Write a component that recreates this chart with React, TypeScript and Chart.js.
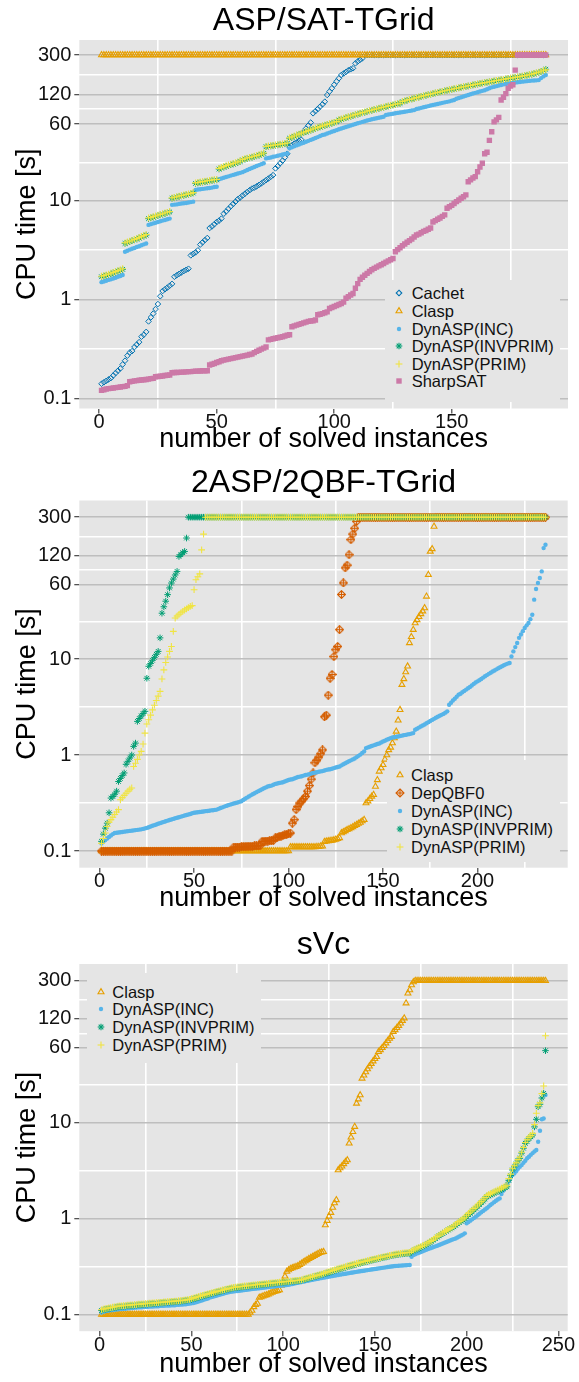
import React, { useEffect, useRef } from 'react';
import { Chart, registerables } from 'chart.js';

Chart.register(...registerables);

const FONT = '"Liberation Sans", Arial, Helvetica, sans-serif';

// ---------------- axis tick values ----------------
const yMajorTicks = [0.1, 1, 10, 60, 120, 300];
const yMinorGrid = [0.316, 3.16, 24.5, 84.9, 190];
const p1XMajor = [0, 50, 100, 150];
const p1XMinor = [25, 75, 125, 175];
const p2XMajor = [0, 50, 100, 150, 200];
const p2XMinor = [25, 75, 125, 175, 225];
const p3XMajor = [0, 50, 100, 150, 200, 250];
const p3XMinor = [25, 75, 125, 175, 225];

// ---------------- panel 1: ASP/SAT-TGrid ----------------
const p1Cachet = [
  0.14, 0.145, 0.15, 0.155, 0.16, 0.17, 0.18, 0.19, 0.2, 0.22,
  0.24, 0.27, 0.29, 0.3, 0.33, 0.35, 0.37, 0.42, 0.44, 0.47,
  0.6, 0.66, 0.72, 0.8, 0.9, 1.08, 1.22, 1.27, 1.32, 1.38,
  1.44, 1.7, 1.76, 1.82, 1.88, 1.94, 2.0, 2.05, 2.8, 2.9,
  3.0, 3.15, 3.6, 3.8, 4.0, 4.2, 5.3, 5.5, 5.8, 6.1,
  6.3, 6.6, 7.4, 7.8, 8.3, 8.8, 9.3, 9.8, 10.4, 10.8,
  11.3, 11.8, 12.3, 12.8, 13.3, 13.6, 14, 14.5, 15, 15.6,
  16.2, 16.8, 17.5, 18.2, 21.3, 22.5, 24, 25.5, 27.5, 30,
  35, 36.5, 38, 39, 40.5, 41.5, 50, 54, 58, 62,
  77, 81, 85, 90, 95, 101, 118, 128, 138, 150,
  162, 174, 188, 195, 202, 210, 215, 220, 247, 258,
  268, 278, 300, 300, 300, 300, 300, 300, 300, 300,
  300, 300, 300, 300, 300, 300, 300, 300, 300, 300,
  300, 300, 300, 300, 300, 300, 300, 300, 300, 300,
  300, 300, 300, 300, 300, 300, 300, 300, 300, 300,
  300, 300, 300, 300, 300, 300, 300, 300, 300, 300,
  300, 300, 300, 300, 300, 300, 300, 300, 300, 300,
  300, 300, 300, 300, 300, 300, 300, 300, 300, 300,
  300, 300, 300, 300, 300, 300, 300, 300, 300, 300,
];
const p1Clasp = [
  300, 300, 300, 300, 300, 300, 300, 300, 300, 300,
  300, 300, 300, 300, 300, 300, 300, 300, 300, 300,
  300, 300, 300, 300, 300, 300, 300, 300, 300, 300,
  300, 300, 300, 300, 300, 300, 300, 300, 300, 300,
  300, 300, 300, 300, 300, 300, 300, 300, 300, 300,
  300, 300, 300, 300, 300, 300, 300, 300, 300, 300,
  300, 300, 300, 300, 300, 300, 300, 300, 300, 300,
  300, 300, 300, 300, 300, 300, 300, 300, 300, 300,
  300, 300, 300, 300, 300, 300, 300, 300, 300, 300,
  300, 300, 300, 300, 300, 300, 300, 300, 300, 300,
  300, 300, 300, 300, 300, 300, 300, 300, 300, 300,
  300, 300, 300, 300, 300, 300, 300, 300, 300, 300,
  300, 300, 300, 300, 300, 300, 300, 300, 300, 300,
  300, 300, 300, 300, 300, 300, 300, 300, 300, 300,
  300, 300, 300, 300, 300, 300, 300, 300, 300, 300,
  300, 300, 300, 300, 300, 300, 300, 300, 300, 300,
  300, 300, 300, 300, 300, 300, 300, 300, 300, 300,
  300, 300, 300, 300, 300, 300, 300, 300, 300, 300,
  300, 300, 300, 300, 300, 300, 300, 300, 300, 300,
];
const p1Inc = [
  1.5, 1.52, 1.55, 1.58, 1.6, 1.63, 1.66, 1.7, 1.73, 1.77,
  3.05, 3.12, 3.2, 3.27, 3.33, 3.4, 3.47, 3.55, 3.62, 3.7,
  5.7, 5.8, 5.9, 6.0, 6.1, 6.2, 6.3, 6.4, 6.5, 6.6,
  9.1, 9.15, 9.2, 9.3, 9.4, 9.45, 9.5, 9.6, 9.7, 9.8,
  12.9, 13.0, 13.1, 13.2, 13.3, 13.4, 13.5, 13.6, 13.8, 13.9,
  16.5, 16.8, 17.1, 17.4, 17.7, 18.0, 18.3, 18.6, 18.9, 19.2,
  19.5, 20, 20.5, 21, 21.5, 22, 22.5, 23, 23.5, 24,
  26.9, 27.2, 27.5, 27.9, 28.2, 28.6, 29, 29.4, 29.8, 30.2,
  34, 34.8, 35.6, 36.4, 37.2, 38, 38.8, 39.6, 40.5, 41.4,
  42.3, 43.2, 44.2, 45.3, 46.4, 47, 48, 49, 50, 51,
  52, 53, 54, 55, 56, 57, 58, 59, 60, 61,
  62, 63, 64, 65, 66, 67, 67.8, 68.6, 69.4, 70.2,
  71, 74, 74.8, 75.5, 76.2, 77, 77.7, 78.4, 79.1, 79.8,
  80.6, 81.4, 82.2, 83, 85, 86.2, 87.4, 88.6, 89.8, 91,
  92.2, 93.4, 94.6, 95.8, 97, 98.2, 99.4, 100.6, 101.8, 103.4,
  105, 108, 110, 112, 114, 116, 118, 120, 122, 124,
  126, 128, 130, 132, 135, 138, 141, 143, 145, 147,
  149, 151, 152.5, 154, 155, 157, 158, 159, 160, 161,
  162, 163, 164, 165, 165.5, 166, 167, 175, 182, 188,
];
const p1InvPrim = [
  1.7, 1.73, 1.76, 1.79, 1.82, 1.86, 1.9, 1.94, 1.98, 2.02,
  3.7, 3.78, 3.86, 3.94, 4.02, 4.1, 4.2, 4.3, 4.4, 4.5,
  6.6, 6.72, 6.84, 6.96, 7.08, 7.2, 7.32, 7.44, 7.56, 7.7,
  10.6, 10.75, 10.9, 11.05, 11.2, 11.35, 11.5, 11.65, 11.8, 12,
  15, 15.15, 15.3, 15.45, 15.6, 15.75, 15.9, 16.05, 16.2, 16.3,
  21, 21.5, 22, 22.4, 22.8, 23.2, 23.6, 24, 24.5, 25,
  26, 26.4, 26.8, 27.2, 27.6, 28, 28.5, 29, 29.5, 30.2,
  35.3, 35.6, 35.9, 36.2, 36.5, 36.8, 37.1, 37.4, 37.8, 38.2,
  43, 44, 45, 46, 47, 48, 49, 50, 51, 52,
  53, 54, 55, 56, 57, 58, 59, 60, 61, 62,
  63, 65.8, 67, 68.2, 69.4, 70.6, 71.8, 73, 74.2, 75.4,
  76.6, 77.8, 79, 80.2, 81.4, 82.6, 83.8, 85, 86.2, 87.4,
  88.6, 89.8, 91, 92.2, 93.4, 94.6, 95.8, 97, 101, 102.6,
  104.2, 105.8, 107.4, 109, 110.6, 112.2, 113.8, 115.4, 117, 118.6,
  120.2, 121.8, 123.4, 125, 126.6, 128.2, 129.8, 131.4, 133, 134.6,
  136.2, 137.8, 139.4, 141, 142.6, 144.2, 145.8, 147.4, 149, 150.6,
  152.2, 153.8, 155.4, 157, 158.6, 160.2, 161.8, 163.4, 165, 166.6,
  168.2, 169.8, 171.4, 173, 174.6, 176.2, 177.8, 179.4, 181, 183,
  185, 187, 189, 191, 194, 197, 200, 204, 209, 215,
];
const p1Prim = [
  1.72, 1.75, 1.78, 1.81, 1.85, 1.88, 1.92, 1.96, 2.0, 2.05,
  3.75, 3.83, 3.9, 3.98, 4.06, 4.15, 4.25, 4.35, 4.45, 4.55,
  6.7, 6.8, 6.92, 7.04, 7.16, 7.28, 7.4, 7.52, 7.65, 7.8,
  10.7, 10.85, 11, 11.15, 11.3, 11.45, 11.6, 11.75, 11.9, 12.1,
  15.2, 15.35, 15.5, 15.65, 15.8, 15.95, 16.1, 16.25, 16.4, 16.5,
  21.3, 21.8, 22.3, 22.7, 23.1, 23.5, 23.9, 24.3, 24.8, 25.3,
  26.3, 26.7, 27.1, 27.5, 27.9, 28.3, 28.8, 29.3, 29.8, 30.5,
  35.6, 35.9, 36.2, 36.5, 36.8, 37.1, 37.4, 37.7, 38.1, 38.5,
  43.4, 44.4, 45.4, 46.4, 47.4, 48.4, 49.4, 50.4, 51.4, 52.4,
  53.4, 54.4, 55.4, 56.4, 57.4, 58.4, 59.4, 60.4, 61.4, 62.4,
  63.5, 66.3, 67.5, 68.7, 69.9, 71.1, 72.3, 73.5, 74.7, 75.9,
  77.1, 78.3, 79.5, 80.7, 81.9, 83.1, 84.3, 85.5, 86.7, 87.9,
  89.1, 90.3, 91.5, 92.7, 93.9, 95.1, 96.3, 97.5, 101.5, 103,
  104.6, 106.2, 107.8, 109.4, 111, 112.6, 114.2, 115.8, 117.4, 119,
  120.6, 122.2, 123.8, 125.4, 127, 128.6, 130.2, 131.8, 133.4, 135,
  136.6, 138.2, 139.8, 141.4, 143, 144.6, 146.2, 147.8, 149.4, 151,
  152.6, 154.2, 155.8, 157.4, 159, 160.6, 162.2, 163.8, 165.4, 167,
  168.6, 170.2, 171.8, 173.4, 175, 176.6, 178.2, 179.8, 181.4, 183.5,
  185.5, 187.5, 189.5, 192, 195, 198, 201, 205, 210, 212,
];
const p1SharpSat = [
  0.12, 0.122, 0.124, 0.125, 0.126, 0.127, 0.128, 0.129, 0.13, 0.131, 0.132, 0.134,
  0.147, 0.148, 0.15, 0.151, 0.152, 0.153, 0.154, 0.155, 0.156, 0.158, 0.159,
  0.165, 0.166, 0.167, 0.168, 0.17, 0.171, 0.172,
  0.181, 0.182, 0.182, 0.183, 0.184, 0.184, 0.185, 0.186, 0.186, 0.187, 0.188, 0.188, 0.189, 0.19, 0.19, 0.19,
  0.217, 0.221, 0.225, 0.23, 0.234,
  0.24, 0.243, 0.246, 0.249, 0.252, 0.255, 0.258, 0.261, 0.264, 0.267, 0.27, 0.273, 0.277, 0.28,
  0.29, 0.298, 0.306, 0.314, 0.322, 0.33,
  0.39, 0.395, 0.4, 0.405, 0.41, 0.415, 0.42, 0.427, 0.434, 0.44,
  0.53, 0.54, 0.55, 0.56, 0.57, 0.58, 0.59, 0.6, 0.605, 0.61, 0.62,
  0.7, 0.71, 0.72, 0.735, 0.75,
  0.81, 0.83, 0.85, 0.87, 0.89, 0.91, 0.94,
  1.03, 1.07, 1.11, 1.15,
  1.3, 1.45, 1.6, 1.68, 1.76, 1.84, 1.92, 2.0,
  2.07, 2.13, 2.19, 2.25, 2.32, 2.39, 2.46, 2.53, 2.6,
  3.05, 3.2, 3.35, 3.5, 3.65, 3.8, 3.95, 4.1, 4.3,
  4.5, 4.6, 4.75, 4.9, 5.0, 5.15, 5.3,
  6.1, 6.3, 6.5, 6.7, 6.95, 7.2,
  8.4, 8.7, 9.0, 9.4, 9.8, 10.2, 10.6, 11, 11.5,
  15.6, 16.3, 17, 17.6,
  19.7, 22, 24,
  30, 31, 41, 50, 63, 66, 70,
  105, 112, 122, 138, 145, 150, 211,
  300, 300, 300, 300, 300, 300, 300, 300, 300, 300, 300, 300, 300,
];

// ---------------- panel 2: 2ASP/2QBF-TGrid ----------------
const p2Clasp = [
  0.1, 0.1, 0.1, 0.1, 0.1, 0.1, 0.1, 0.1, 0.1, 0.1,
  0.1, 0.1, 0.1, 0.1, 0.1, 0.1, 0.1, 0.1, 0.1, 0.1,
  0.1, 0.1, 0.1, 0.1, 0.1, 0.1, 0.1, 0.1, 0.1, 0.1,
  0.1, 0.1, 0.1, 0.1, 0.1, 0.1, 0.1, 0.1, 0.1, 0.1,
  0.1, 0.1, 0.1, 0.1, 0.1, 0.1, 0.1, 0.1, 0.1, 0.1,
  0.1, 0.1, 0.1, 0.1, 0.1, 0.1, 0.1, 0.1, 0.1, 0.1,
  0.1, 0.1, 0.1, 0.1, 0.1, 0.1, 0.1, 0.1, 0.1, 0.1,
  0.1, 0.1, 0.1, 0.1, 0.1, 0.1, 0.1, 0.1, 0.1, 0.1,
  0.1, 0.1, 0.1, 0.1, 0.1, 0.1, 0.1, 0.1, 0.1, 0.1,
  0.1, 0.1, 0.1, 0.1, 0.1, 0.1, 0.1, 0.1, 0.1, 0.1,
  0.11, 0.11, 0.11, 0.11, 0.11, 0.11, 0.11, 0.11, 0.11, 0.11,
  0.11, 0.11, 0.11, 0.11, 0.111, 0.111, 0.112, 0.112,
  0.125, 0.126, 0.127, 0.128, 0.129, 0.13, 0.132, 0.134, 0.137,
  0.154, 0.158, 0.162, 0.166, 0.17, 0.174, 0.178, 0.183, 0.188, 0.193, 0.198, 0.205, 0.212,
  0.316, 0.33, 0.35, 0.37, 0.386,
  0.47, 0.55, 0.675, 0.73, 0.79, 0.9, 1.0, 1.13, 1.2, 1.33,
  1.5, 1.76, 2.3, 2.96, 5.4, 6.2, 7.3, 8.4, 14.7, 17,
  20.2, 23.7, 25.5, 27.5, 29.5, 31.5, 34, 44.9, 75.5, 132,
  140, 240,
  300, 300, 300, 300, 300, 300, 300, 300, 300, 300,
  300, 300, 300, 300, 300, 300, 300, 300, 300, 300,
  300, 300, 300, 300, 300, 300, 300, 300, 300, 300,
  300, 300, 300, 300, 300, 300, 300, 300, 300, 300,
  300, 300, 300, 300, 300, 300, 300, 300, 300, 300,
  300, 300, 300, 300, 300, 300, 300, 300, 300,
];
const p2DepQbf = [
  0.1, 0.1, 0.1, 0.1, 0.1, 0.1, 0.1, 0.1, 0.1, 0.1,
  0.1, 0.1, 0.1, 0.1, 0.1, 0.1, 0.1, 0.1, 0.1, 0.1,
  0.1, 0.1, 0.1, 0.1, 0.1, 0.1, 0.1, 0.1, 0.1, 0.1,
  0.1, 0.1, 0.1, 0.1, 0.1, 0.1, 0.1, 0.1, 0.1, 0.1,
  0.1, 0.1, 0.1, 0.1, 0.1, 0.1, 0.1, 0.1, 0.1, 0.1,
  0.1, 0.1, 0.1, 0.1, 0.1, 0.1, 0.1, 0.1, 0.1, 0.1,
  0.1, 0.1, 0.1, 0.1, 0.1, 0.1, 0.1, 0.1, 0.1, 0.1,
  0.11, 0.11, 0.11, 0.11, 0.111, 0.111, 0.111, 0.112, 0.112, 0.112, 0.112, 0.113, 0.113, 0.113, 0.114,
  0.126, 0.126, 0.127, 0.127, 0.128, 0.128, 0.129,
  0.137, 0.139, 0.141, 0.143, 0.145, 0.147, 0.149, 0.151, 0.154,
  0.195, 0.212,
  0.27, 0.29, 0.316, 0.33, 0.35,
  0.37, 0.42, 0.48, 0.56, 0.65,
  0.83, 0.88, 0.95, 1.03, 1.13,
  2.5, 2.6,
  4.2, 6.3, 6.9, 10.6, 12.5, 13.5, 20.2,
  47, 62, 89, 95, 122, 175, 200, 230, 271,
  300, 300, 300, 300, 300, 300, 300, 300, 300, 300,
  300, 300, 300, 300, 300, 300, 300, 300, 300, 300,
  300, 300, 300, 300, 300, 300, 300, 300, 300, 300,
  300, 300, 300, 300, 300, 300, 300, 300, 300, 300,
  300, 300, 300, 300, 300, 300, 300, 300, 300, 300,
  300, 300, 300, 300, 300, 300, 300, 300, 300, 300,
  300, 300, 300, 300, 300, 300, 300, 300, 300, 300,
  300, 300, 300, 300, 300, 300, 300, 300, 300, 300,
  300, 300, 300, 300, 300, 300, 300, 300, 300, 300,
  300, 300, 300, 300, 300, 300, 300, 300, 300, 300,
];
const p2Inc = [
  0.12, 0.125, 0.13, 0.135, 0.14, 0.145, 0.15, 0.154,
  0.155, 0.156, 0.157, 0.158, 0.159, 0.16, 0.161, 0.162, 0.163, 0.164, 0.165, 0.166, 0.167, 0.168, 0.17, 0.172, 0.174,
  0.177, 0.18, 0.183, 0.186, 0.189, 0.192, 0.195, 0.198, 0.201, 0.204, 0.207, 0.21, 0.213, 0.216, 0.219,
  0.222, 0.225, 0.228, 0.231, 0.234, 0.237, 0.24, 0.243, 0.247, 0.25,
  0.252, 0.253, 0.255, 0.256, 0.258, 0.26, 0.261, 0.263, 0.265, 0.266, 0.268, 0.27,
  0.275, 0.28, 0.285, 0.29, 0.295, 0.3, 0.304, 0.308, 0.312, 0.316, 0.32, 0.325, 0.33,
  0.34, 0.35, 0.36, 0.37, 0.38, 0.39, 0.4, 0.41, 0.42, 0.43, 0.44, 0.45, 0.46, 0.47, 0.475, 0.48, 0.49,
  0.5, 0.505, 0.51, 0.515, 0.52, 0.53, 0.54, 0.55, 0.555, 0.56, 0.57, 0.58, 0.59, 0.595, 0.6, 0.61, 0.62, 0.625, 0.63, 0.64, 0.65,
  0.655, 0.66, 0.67, 0.675, 0.68, 0.69, 0.7, 0.705, 0.71, 0.72, 0.73, 0.74, 0.75, 0.76,
  0.78, 0.8, 0.82, 0.84, 0.86, 0.88, 0.9, 0.92, 0.95, 0.98, 1.01, 1.05, 1.09,
  1.18, 1.2, 1.22, 1.24, 1.26, 1.28, 1.3, 1.32, 1.35, 1.38, 1.41, 1.44, 1.47, 1.5,
  1.52, 1.53, 1.55, 1.56, 1.58, 1.59, 1.61, 1.62, 1.64, 1.65, 1.67, 1.69,
  1.83, 1.88, 1.93, 1.98, 2.03, 2.08, 2.14, 2.2, 2.26, 2.32, 2.38, 2.44, 2.5, 2.56, 2.62, 2.68, 2.76, 2.85,
  3.34, 3.5, 3.7, 3.85, 4.05, 4.25,
  4.35, 4.5, 4.65, 4.8, 4.95, 5.1, 5.3, 5.5, 5.7, 5.85,
  6.0, 6.2, 6.4, 6.6, 6.8, 7.0, 7.2, 7.4, 7.6, 7.8, 8.0, 8.2, 8.4, 8.6, 8.8, 8.95, 9.1,
  10.6, 12, 13.3, 14.7,
  16.6, 18, 19.5, 21, 22.4, 23.7, 26,
  28.9, 41.5, 53.6, 62, 69.8, 81.7, 143, 155,
];
const p2InvPrim = [
  0.126, 0.15, 0.173, 0.195, 0.25, 0.356, 0.37, 0.39, 0.42, 0.53,
  0.57, 0.61, 0.65, 0.8, 0.86, 0.93, 1.0, 1.23, 1.33, 2.24,
  2.4, 2.55, 2.7, 2.85, 6.3, 8.4, 9.0, 9.7, 10.4, 11.2,
  12, 16.6, 30, 35, 40, 46.8, 55, 61.8, 68, 75,
  81.7, 117, 122, 128, 132, 182,
  300, 300, 300, 300, 300, 300, 300, 300, 300, 300,
  300, 300, 300, 300, 300, 300, 300, 300, 300, 300,
  300, 300, 300, 300, 300, 300, 300, 300, 300, 300,
  300, 300, 300, 300, 300, 300, 300, 300, 300, 300,
  300, 300, 300, 300, 300, 300, 300, 300, 300, 300,
  300, 300, 300, 300, 300, 300, 300, 300, 300, 300,
  300, 300, 300, 300, 300, 300, 300, 300, 300, 300,
  300, 300, 300, 300, 300, 300, 300, 300, 300, 300,
  300, 300, 300, 300, 300, 300, 300, 300, 300, 300,
  300, 300, 300, 300, 300, 300, 300, 300, 300, 300,
  300, 300, 300, 300, 300, 300, 300, 300, 300, 300,
  300, 300, 300, 300, 300, 300, 300, 300, 300, 300,
  300, 300, 300, 300, 300, 300, 300, 300, 300, 300,
  300, 300, 300, 300, 300, 300, 300, 300, 300, 300,
  300, 300, 300, 300, 300, 300, 300, 300, 300, 300,
  300, 300, 300, 300, 300, 300, 300, 300, 300, 300,
  300, 300, 300, 300, 300, 300, 300, 300, 300, 300,
  300, 300, 300, 300, 300, 300, 300, 300, 300, 300,
  300, 300, 300, 300, 300, 300, 300, 300, 300, 300,
];
const p2Prim = [
  0.12, 0.135, 0.154, 0.18, 0.2, 0.212, 0.225, 0.24, 0.255, 0.27,
  0.342, 0.36, 0.38, 0.4, 0.42, 0.44, 0.453, 0.76, 0.82, 0.9,
  1.0, 1.09, 1.3, 1.69, 2.1, 2.33, 2.6, 2.95, 3.3, 3.7,
  4.1, 4.6, 6.2, 7.7, 9.2, 10.5, 12, 13.5, 19.4, 26.7,
  28, 29.2, 30.3, 31.4, 32.4, 33.3, 34.3, 35.3, 36, 52.7,
  67, 72, 77, 137, 200,
  300, 300, 300, 300, 300, 300, 300, 300, 300, 300,
  300, 300, 300, 300, 300, 300, 300, 300, 300, 300,
  300, 300, 300, 300, 300, 300, 300, 300, 300, 300,
  300, 300, 300, 300, 300, 300, 300, 300, 300, 300,
  300, 300, 300, 300, 300, 300, 300, 300, 300, 300,
  300, 300, 300, 300, 300, 300, 300, 300, 300, 300,
  300, 300, 300, 300, 300, 300, 300, 300, 300, 300,
  300, 300, 300, 300, 300, 300, 300, 300, 300, 300,
  300, 300, 300, 300, 300, 300, 300, 300, 300, 300,
  300, 300, 300, 300, 300, 300, 300, 300, 300, 300,
  300, 300, 300, 300, 300, 300, 300, 300, 300, 300,
  300, 300, 300, 300, 300, 300, 300, 300, 300, 300,
  300, 300, 300, 300, 300, 300, 300, 300, 300, 300,
  300, 300, 300, 300, 300, 300, 300, 300, 300, 300,
  300, 300, 300, 300, 300, 300, 300, 300, 300, 300,
  300, 300, 300, 300, 300, 300, 300, 300, 300, 300,
  300, 300, 300, 300, 300, 300, 300, 300, 300, 300,
  300, 300, 300, 300, 300, 300, 300, 300, 300, 300,
  300,
];

// ---------------- panel 3: sVc ----------------
const p3Clasp = [
  0.1, 0.1, 0.1, 0.1, 0.1, 0.1, 0.1, 0.1, 0.1, 0.1,
  0.1, 0.1, 0.1, 0.1, 0.1, 0.1, 0.1, 0.1, 0.1, 0.1,
  0.1, 0.1, 0.1, 0.1, 0.1, 0.1, 0.1, 0.1, 0.1, 0.1,
  0.1, 0.1, 0.1, 0.1, 0.1, 0.1, 0.1, 0.1, 0.1, 0.1,
  0.1, 0.1, 0.1, 0.1, 0.1, 0.1, 0.1, 0.1, 0.1, 0.1,
  0.1, 0.1, 0.1, 0.1, 0.1, 0.1, 0.1, 0.1, 0.1, 0.1,
  0.1, 0.1, 0.1, 0.1, 0.1, 0.1, 0.1, 0.1, 0.1, 0.1,
  0.1, 0.1, 0.1, 0.1, 0.1, 0.1, 0.1, 0.1, 0.1, 0.1,
  0.1,
  0.105, 0.11, 0.12, 0.126, 0.13,
  0.15, 0.152, 0.155, 0.158, 0.16, 0.163, 0.166, 0.17,
  0.173, 0.175, 0.177, 0.18, 0.2, 0.22, 0.25,
  0.28, 0.29, 0.3, 0.305, 0.31, 0.315, 0.32,
  0.33, 0.34, 0.35, 0.36, 0.37, 0.38, 0.39, 0.4, 0.41, 0.42, 0.43, 0.44, 0.445, 0.45,
  0.855, 0.95, 1.05, 1.15, 1.3, 1.45, 1.56,
  3.2, 3.35, 3.5, 3.7, 3.9, 4.06,
  6.07, 7, 8, 9.04,
  15.8, 17.5, 19.3,
  28.8, 31, 33.5, 36, 38.5, 41, 43.5, 46, 48.4,
  54.6, 57, 60, 63, 67, 71, 75, 78.3,
  88.3, 92, 97, 102, 108, 115, 122,
  175, 222, 240, 270, 290,
  300, 300, 300, 300, 300, 300, 300, 300, 300, 300,
  300, 300, 300, 300, 300, 300, 300, 300, 300, 300,
  300, 300, 300, 300, 300, 300, 300, 300, 300, 300,
  300, 300, 300, 300, 300, 300, 300, 300, 300, 300,
  300, 300, 300, 300, 300, 300, 300, 300, 300, 300,
  300, 300, 300, 300, 300, 300, 300, 300, 300, 300,
  300, 300, 300, 300, 300, 300, 300, 300, 300, 300,
  300, 300,
];
const p3Inc = [
  0.105, 0.107, 0.108, 0.109, 0.11, 0.111, 0.111, 0.112, 0.113, 0.113,
  0.114, 0.114, 0.115, 0.115, 0.116, 0.116, 0.117, 0.117, 0.118, 0.118,
  0.119, 0.119, 0.119, 0.12, 0.12, 0.12, 0.121, 0.121, 0.121, 0.122,
  0.122, 0.122, 0.123, 0.123, 0.123, 0.124, 0.124, 0.124, 0.125, 0.125,
  0.125, 0.126, 0.126, 0.127, 0.127, 0.128, 0.128, 0.129, 0.13, 0.131,
  0.132, 0.133, 0.135, 0.137, 0.139, 0.141, 0.143, 0.145, 0.147, 0.15,
  0.152, 0.154, 0.156, 0.158, 0.16, 0.162, 0.164, 0.166, 0.168, 0.17,
  0.172, 0.173, 0.174, 0.175, 0.176, 0.177, 0.178, 0.179, 0.18, 0.181,
  0.182, 0.183, 0.184, 0.185, 0.186, 0.187, 0.188, 0.189, 0.19, 0.191,
  0.192, 0.193, 0.194, 0.195, 0.196, 0.197, 0.198, 0.199, 0.2, 0.201,
  0.202, 0.203, 0.204, 0.206, 0.208, 0.21, 0.212, 0.214, 0.216, 0.218,
  0.22, 0.222, 0.224, 0.226, 0.228, 0.23, 0.232, 0.234, 0.236, 0.238,
  0.24, 0.242, 0.244, 0.246, 0.248, 0.25, 0.252, 0.254, 0.256, 0.258,
  0.26, 0.262, 0.264, 0.266, 0.268, 0.27, 0.272, 0.274, 0.276, 0.278,
  0.28, 0.282, 0.284, 0.286, 0.288, 0.29, 0.292, 0.294, 0.296, 0.298,
  0.3, 0.302, 0.304, 0.306, 0.308, 0.31, 0.312, 0.314, 0.316, 0.318,
  0.32, 0.321, 0.322, 0.323, 0.324, 0.325, 0.326, 0.327, 0.328,
  0.4, 0.417, 0.425, 0.433, 0.44, 0.448, 0.456, 0.464, 0.472, 0.48, 0.488, 0.496, 0.505, 0.513, 0.521, 0.53,
  0.54, 0.55, 0.56, 0.57, 0.58, 0.59, 0.6, 0.61, 0.62, 0.635, 0.65, 0.665, 0.68, 0.7,
  0.89, 0.92, 0.95, 0.98, 1.01, 1.04, 1.08, 1.12, 1.16, 1.2, 1.24, 1.28,
  1.33, 1.38, 1.43, 1.48, 1.53, 1.58, 1.62,
  1.8, 1.95, 2.1, 2.3, 2.45, 2.65, 2.84,
  2.95, 3.1, 3.3, 3.45, 3.6, 3.8, 4.0, 4.24,
  4.4, 4.6, 4.8, 5.0, 5.17,
  6.3, 8.2, 10.8, 11, 19.3,
];
const p3InvPrim = [
  0.11, 0.112, 0.113, 0.114, 0.115, 0.116, 0.117, 0.118, 0.119, 0.12,
  0.121, 0.121, 0.122, 0.122, 0.123, 0.123, 0.124, 0.124, 0.125, 0.125,
  0.126, 0.126, 0.127, 0.127, 0.128, 0.128, 0.129, 0.129, 0.13, 0.13,
  0.131, 0.131, 0.132, 0.132, 0.133, 0.133, 0.134, 0.134, 0.135, 0.135,
  0.136, 0.136, 0.137, 0.137, 0.138, 0.139, 0.14, 0.141, 0.142, 0.143,
  0.145, 0.147, 0.149, 0.151, 0.153, 0.155, 0.157, 0.159, 0.161, 0.163,
  0.165, 0.167, 0.169, 0.171, 0.173, 0.175, 0.177, 0.179, 0.181, 0.183,
  0.185, 0.187, 0.189, 0.19, 0.191, 0.192, 0.193, 0.194, 0.195, 0.196,
  0.197, 0.198, 0.199, 0.2, 0.201, 0.202, 0.203, 0.204, 0.205, 0.206,
  0.207, 0.208, 0.209, 0.21, 0.211, 0.212, 0.213, 0.214, 0.215, 0.216,
  0.217, 0.218, 0.219, 0.22, 0.221, 0.222, 0.223, 0.224, 0.225, 0.227,
  0.23, 0.233, 0.236, 0.239, 0.242, 0.245, 0.248, 0.251, 0.254, 0.257,
  0.26, 0.263, 0.266, 0.27, 0.274, 0.278, 0.282, 0.286, 0.29, 0.294,
  0.298, 0.302, 0.306, 0.31, 0.314, 0.318, 0.322, 0.326, 0.33, 0.334,
  0.338, 0.342, 0.346, 0.35, 0.354, 0.358, 0.362, 0.366, 0.37, 0.374,
  0.378, 0.382, 0.386, 0.39, 0.394, 0.398, 0.402, 0.406, 0.41, 0.414,
  0.417, 0.42, 0.423, 0.426, 0.428, 0.43, 0.432, 0.433, 0.434,
  0.45, 0.46, 0.47, 0.48, 0.49, 0.5, 0.51, 0.52, 0.535, 0.55, 0.565, 0.58, 0.597,
  0.62, 0.64, 0.66, 0.68, 0.7, 0.72, 0.74, 0.76, 0.78, 0.8, 0.82, 0.85, 0.88, 0.91, 0.94, 0.964,
  1.0, 1.05, 1.1, 1.13, 1.18, 1.23, 1.28, 1.34, 1.4, 1.46, 1.52, 1.6, 1.69,
  1.72, 1.76, 1.8, 1.84, 1.88, 1.92, 1.96, 2.0, 2.05, 2.1, 2.14,
  2.5, 2.8, 3.2, 3.45, 3.7, 4.0, 4.24,
  4.8, 5.4, 6.07, 6.4, 6.8, 7.1, 7.4,
  9, 10.8, 14.6, 15.5, 18, 20.1, 56,
];
const p3Prim = [
  0.112, 0.114, 0.115, 0.116, 0.117, 0.118, 0.119, 0.12, 0.121, 0.122,
  0.123, 0.123, 0.124, 0.124, 0.125, 0.125, 0.126, 0.126, 0.127, 0.127,
  0.128, 0.128, 0.129, 0.129, 0.13, 0.13, 0.131, 0.131, 0.132, 0.132,
  0.133, 0.133, 0.134, 0.134, 0.135, 0.135, 0.136, 0.136, 0.137, 0.137,
  0.138, 0.138, 0.139, 0.139, 0.14, 0.141, 0.142, 0.143, 0.144, 0.146,
  0.148, 0.15, 0.152, 0.154, 0.156, 0.158, 0.16, 0.162, 0.164, 0.166,
  0.168, 0.17, 0.172, 0.174, 0.176, 0.178, 0.18, 0.182, 0.184, 0.186,
  0.188, 0.19, 0.192, 0.193, 0.194, 0.195, 0.196, 0.197, 0.198, 0.199,
  0.2, 0.201, 0.202, 0.203, 0.204, 0.205, 0.206, 0.207, 0.208, 0.209,
  0.21, 0.211, 0.212, 0.213, 0.214, 0.215, 0.216, 0.217, 0.218, 0.219,
  0.22, 0.221, 0.222, 0.223, 0.224, 0.225, 0.226, 0.227, 0.228, 0.23,
  0.233, 0.236, 0.239, 0.242, 0.245, 0.248, 0.251, 0.254, 0.257, 0.26,
  0.264, 0.268, 0.272, 0.276, 0.28, 0.284, 0.288, 0.292, 0.296, 0.3,
  0.304, 0.308, 0.312, 0.316, 0.32, 0.324, 0.328, 0.332, 0.336, 0.34,
  0.344, 0.348, 0.352, 0.356, 0.36, 0.364, 0.368, 0.372, 0.376, 0.38,
  0.384, 0.388, 0.392, 0.396, 0.4, 0.404, 0.408, 0.412, 0.416, 0.42,
  0.424, 0.427, 0.43, 0.433, 0.436, 0.438, 0.44, 0.442, 0.444,
  0.46, 0.47, 0.48, 0.49, 0.5, 0.51, 0.52, 0.53, 0.545, 0.56, 0.575, 0.59, 0.61,
  0.63, 0.65, 0.67, 0.69, 0.71, 0.73, 0.75, 0.77, 0.79, 0.81, 0.84, 0.87, 0.9, 0.93, 0.96, 0.99,
  1.03, 1.08, 1.13, 1.17, 1.22, 1.27, 1.32, 1.38, 1.44, 1.5, 1.57, 1.65, 1.74,
  1.78, 1.82, 1.86, 1.9, 1.94, 1.98, 2.02, 2.07, 2.12, 2.17, 2.22,
  2.6, 2.9, 3.3, 3.55, 3.8, 4.1, 4.35,
  4.9, 5.5, 6.2, 6.6, 7.0, 7.3, 7.7,
  9.5, 12.5, 15, 16, 20, 24, 80,
];

// ---------------- styles ----------------
type Marker = 'diamond' | 'triangle' | 'circle' | 'asterisk' | 'plus' | 'square' | 'diamondplus';
const SERIES_STYLE: Record<string, { color: string; marker: Marker }> = {
  'Cachet': { color: '#0072B2', marker: 'diamond' },
  'Clasp': { color: '#E69F00', marker: 'triangle' },
  'DepQBF0': { color: '#D55E00', marker: 'diamondplus' },
  'DynASP(INC)': { color: '#56B4E9', marker: 'circle' },
  'DynASP(INVPRIM)': { color: '#009E73', marker: 'asterisk' },
  'DynASP(PRIM)': { color: '#F0E442', marker: 'plus' },
  'SharpSAT': { color: '#CC79A7', marker: 'square' },
};

type Series = { name: string; values: number[] };
type Panel = {
  title: string;
  series: Series[];
  xMajor: number[];
  xMinor: number[];
  xMin: number; xMax: number; yMin: number; yMax: number;
  canvasTop: number; canvasHeight: number;
  areaLeft: number; areaRight: number; areaBottom: number;
  titlePad: [number, number];
  xTitlePadBottom: number;
  legend: { left: number; top: number; width: number; height: number; markerX: number; textX: number; firstRow: number; step: number };
};

const PANELS: Panel[] = [
  {
    title: 'ASP/SAT-TGrid',
    series: [
      { name: 'Cachet', values: p1Cachet },
      { name: 'Clasp', values: p1Clasp },
      { name: 'DynASP(INC)', values: p1Inc },
      { name: 'DynASP(INVPRIM)', values: p1InvPrim },
      { name: 'DynASP(PRIM)', values: p1Prim },
      { name: 'SharpSAT', values: p1SharpSat },
    ],
    xMajor: p1XMajor, xMinor: p1XMinor,
    xMin: -8.45, xMax: 199.45, yMin: 0.0787, yMax: 425.6,
    canvasTop: 0, canvasHeight: 462,
    areaLeft: 79.3, areaRight: 568, areaBottom: 408.5,
    titlePad: [3.4, 1.4],
    xTitlePadBottom: 5.8,
    legend: { left: 385, top: 280, width: 175, height: 122, markerX: 399, textX: 411.7, firstRow: 293.3, step: 17.6 },
  },
  {
    title: '2ASP/2QBF-TGrid',
    series: [
      { name: 'Clasp', values: p2Clasp },
      { name: 'DepQBF0', values: p2DepQbf },
      { name: 'DynASP(INC)', values: p2Inc },
      { name: 'DynASP(INVPRIM)', values: p2InvPrim },
      { name: 'DynASP(PRIM)', values: p2Prim },
    ],
    xMajor: p2XMajor, xMinor: p2XMinor,
    xMin: -10.75, xMax: 247.75, yMin: 0.067, yMax: 447.7,
    canvasTop: 462, canvasHeight: 463,
    areaLeft: 79.3, areaRight: 567.7, areaBottom: 405.7,
    titlePad: [3.3, 0],
    xTitlePadBottom: 9.8,
    legend: { left: 386.7, top: 760, width: 173, height: 102, markerX: 400, textX: 411, firstRow: 775, step: 17.9 },
  },
  {
    title: 'sVc',
    series: [
      { name: 'Clasp', values: p3Clasp },
      { name: 'DynASP(INC)', values: p3Inc },
      { name: 'DynASP(INVPRIM)', values: p3InvPrim },
      { name: 'DynASP(PRIM)', values: p3Prim },
    ],
    xMajor: p3XMajor, xMinor: p3XMinor,
    xMin: -11.1, xMax: 255.1, yMin: 0.067, yMax: 447.7,
    canvasTop: 925, canvasHeight: 457,
    areaLeft: 79.3, areaRight: 567.7, areaBottom: 406.2,
    titlePad: [2.4, 1.4],
    xTitlePadBottom: 0.8,
    legend: { left: 87, top: 973, width: 174, height: 90, markerX: 101, textX: 112.3, firstRow: 991.7, step: 17.7 },
  },
];

function makeDiamondPlus(color: string): HTMLCanvasElement {
  const c = document.createElement('canvas');
  c.width = 9; c.height = 9;
  const g = c.getContext('2d')!;
  g.strokeStyle = color;
  g.lineWidth = 1.1;
  g.beginPath();
  g.moveTo(4.5, 0.6); g.lineTo(8.4, 4.5); g.lineTo(4.5, 8.4); g.lineTo(0.6, 4.5); g.closePath();
  g.moveTo(4.5, 0.6); g.lineTo(4.5, 8.4);
  g.moveTo(0.6, 4.5); g.lineTo(8.4, 4.5);
  g.stroke();
  return c;
}

function pointOptions(marker: Marker, color: string): any {
  const none = 'rgba(0,0,0,0)';
  switch (marker) {
    case 'diamond': return { pointStyle: 'rectRot', pointRadius: 2.8, pointBorderColor: color, pointBackgroundColor: none, pointBorderWidth: 1 };
    case 'triangle': return { pointStyle: 'triangle', pointRadius: 3.4, pointBorderColor: color, pointBackgroundColor: none, pointBorderWidth: 1.1 };
    case 'circle': return { pointStyle: 'circle', pointRadius: 2.2, pointBorderColor: color, pointBackgroundColor: color, pointBorderWidth: 0 };
    case 'asterisk': return { pointStyle: 'star', pointRadius: 3.3, pointBorderColor: color, pointBackgroundColor: color, pointBorderWidth: 1 };
    case 'plus': return { pointStyle: 'cross', pointRadius: 3.4, pointBorderColor: color, pointBackgroundColor: color, pointBorderWidth: 1.1 };
    case 'square': return { pointStyle: 'rect', pointRadius: 3.8, pointBorderColor: color, pointBackgroundColor: color, pointBorderWidth: 0 };
    case 'diamondplus': return { pointStyle: makeDiamondPlus(color), pointRadius: 4, pointBorderColor: color, pointBackgroundColor: color, pointBorderWidth: 1 };
  }
}

const panelBackground = {
  id: 'panelBackground',
  beforeDraw(chart: any) {
    const { ctx, chartArea: a } = chart;
    ctx.save();
    ctx.fillStyle = '#E5E5E5';
    ctx.fillRect(a.left, a.top, a.right - a.left, a.bottom - a.top);
    ctx.restore();
  },
};

function buildConfig(p: Panel): any {
  const n = p.series.length;
  const datasets = p.series.map((s, i) => {
    const st = SERIES_STYLE[s.name];
    return {
      label: s.name,
      data: s.values.map((v, k) => ({ x: k + 1, y: v })),
      order: n - i,
      showLine: false,
      ...pointOptions(st.marker, st.color),
    };
  });
  const xTicks = [...p.xMajor, ...p.xMinor].sort((a, b) => a - b);
  const yTicks = [...yMajorTicks, ...yMinorGrid].sort((a, b) => a - b);
  const isXMajor = (v: number) => p.xMajor.includes(v);
  const isYMajor = (v: number) => yMajorTicks.includes(v);
  const xHeight = p.canvasHeight - p.areaBottom;
  return {
    type: 'scatter',
    data: { datasets },
    plugins: [panelBackground],
    options: {
      responsive: false,
      animation: false,
      events: [],
      layout: { padding: { left: 0, right: 579 - p.areaRight, top: 0, bottom: 0 } },
      plugins: {
        legend: { display: false },
        tooltip: { enabled: false },
        title: {
          display: true,
          text: p.title,
          fullSize: false,
          color: '#000',
          font: { family: FONT, size: 32, weight: 'normal', lineHeight: 1.1 },
          padding: { top: p.titlePad[0], bottom: p.titlePad[1] },
        },
      },
      scales: {
        x: {
          type: 'linear',
          position: 'bottom',
          min: p.xMin,
          max: p.xMax,
          afterBuildTicks: (s: any) => { s.ticks = xTicks.map((v) => ({ value: v })); },
          afterFit: (s: any) => { s.height = xHeight; },
          border: { display: false },
          grid: {
            color: (c: any) => (c.tick && isXMajor(c.tick.value) ? 'rgba(0,0,0,0)' : '#FFFFFF'),
            lineWidth: 1.6,
            drawTicks: true,
            tickLength: 5,
            tickWidth: 1.1,
            tickColor: (c: any) => (c.tick && isXMajor(c.tick.value) ? '#333333' : 'rgba(0,0,0,0)'),
          },
          ticks: {
            autoSkip: false,
            maxRotation: 0,
            minRotation: 0,
            padding: -1,
            color: '#111',
            font: { family: FONT, size: 20, lineHeight: 1 },
            callback: (v: any) => (isXMajor(Number(v)) ? String(v) : ''),
          },
          title: {
            display: true,
            text: 'number of solved instances',
            color: '#000',
            font: { family: FONT, size: 27, lineHeight: 1.2 },
            padding: { top: 0, bottom: p.xTitlePadBottom },
          },
        },
        y: {
          type: 'logarithmic',
          position: 'left',
          min: p.yMin,
          max: p.yMax,
          afterBuildTicks: (s: any) => { s.ticks = yTicks.map((v) => ({ value: v })); },
          afterFit: (s: any) => { s.width = p.areaLeft; },
          border: { display: false },
          grid: {
            color: (c: any) => (c.tick && isYMajor(c.tick.value) ? '#BEBEBE' : '#FFFFFF'),
            lineWidth: 1.4,
            drawTicks: true,
            tickLength: 5,
            tickWidth: 1.1,
            tickColor: (c: any) => (c.tick && isYMajor(c.tick.value) ? '#333333' : 'rgba(0,0,0,0)'),
          },
          ticks: {
            autoSkip: false,
            padding: 3,
            color: '#111',
            font: { family: FONT, size: 20, lineHeight: 1.2 },
            callback: (v: any) => (isYMajor(Number(v)) ? String(v) : ''),
          },
          title: {
            display: true,
            text: 'CPU time [s]',
            color: '#000',
            font: { family: FONT, size: 27, lineHeight: 1.2 },
            padding: { top: 11.8, bottom: 0 },
          },
        },
      },
    },
  };
}

function MarkerIcon({ marker, color }: { marker: Marker; color: string }) {
  const sw = 1.1;
  let shape: React.ReactNode = null;
  switch (marker) {
    case 'diamond':
      shape = <polygon points="7,4.2 9.8,7 7,9.8 4.2,7" fill="none" stroke={color} strokeWidth={sw} />;
      break;
    case 'triangle':
      shape = <polygon points="7,3.6 10,8.7 4,8.7" fill="none" stroke={color} strokeWidth={sw} />;
      break;
    case 'circle':
      shape = <circle cx={7} cy={7} r={2.2} fill={color} />;
      break;
    case 'asterisk':
      shape = (
        <g stroke={color} strokeWidth={sw}>
          <line x1={3.7} y1={7} x2={10.3} y2={7} />
          <line x1={7} y1={3.7} x2={7} y2={10.3} />
          <line x1={4.7} y1={4.7} x2={9.3} y2={9.3} />
          <line x1={4.7} y1={9.3} x2={9.3} y2={4.7} />
        </g>
      );
      break;
    case 'plus':
      shape = (
        <g stroke={color} strokeWidth={sw}>
          <line x1={3.6} y1={7} x2={10.4} y2={7} />
          <line x1={7} y1={3.6} x2={7} y2={10.4} />
        </g>
      );
      break;
    case 'square':
      shape = <rect x={4.3} y={4.3} width={5.4} height={5.4} fill={color} />;
      break;
    case 'diamondplus':
      shape = (
        <g stroke={color} strokeWidth={sw} fill="none">
          <polygon points="7,3 11,7 7,11 3,7" />
          <line x1={7} y1={3} x2={7} y2={11} />
          <line x1={3} y1={7} x2={11} y2={7} />
        </g>
      );
      break;
  }
  return (
    <svg width={14} height={14} viewBox="0 0 14 14" style={{ position: 'absolute', left: 0, top: 2 }}>
      {shape}
    </svg>
  );
}

function PanelLegend({ panel }: { panel: Panel }) {
  const L = panel.legend;
  return (
    <div style={{ position: 'absolute', left: L.left, top: L.top, width: L.width, height: L.height, background: '#E5E5E5' }}>
      {panel.series.map((s, i) => {
        const st = SERIES_STYLE[s.name];
        return (
          <div key={s.name} style={{ position: 'absolute', left: L.markerX - L.left - 7, top: L.firstRow - L.top - 9 + i * L.step, height: 18 }}>
            <MarkerIcon marker={st.marker} color={st.color} />
            <span style={{ position: 'absolute', left: L.textX - L.markerX + 7, top: 0, lineHeight: '18px', fontSize: 16.5, fontFamily: FONT, color: '#111', whiteSpace: 'nowrap' }}>
              {s.name}
            </span>
          </div>
        );
      })}
    </div>
  );
}

function PanelChart({ panel }: { panel: Panel }) {
  const ref = useRef<HTMLCanvasElement>(null);
  useEffect(() => {
    const canvas = ref.current;
    if (!canvas) return;
    const chart = new Chart(canvas, buildConfig(panel));
    return () => chart.destroy();
  }, [panel]);
  return (
    <canvas
      ref={ref}
      width={579}
      height={panel.canvasHeight}
      style={{ position: 'absolute', left: 0, top: panel.canvasTop, width: 579, height: panel.canvasHeight, display: 'block' }}
    />
  );
}

export default function App() {
  return (
    <div style={{ position: 'absolute', left: 0, top: 0, width: 579, height: 1382, background: '#FFFFFF', overflow: 'hidden' }}>
      {PANELS.map((p) => (
        <React.Fragment key={p.title}>
          <PanelChart panel={p} />
          <PanelLegend panel={p} />
        </React.Fragment>
      ))}
    </div>
  );
}
